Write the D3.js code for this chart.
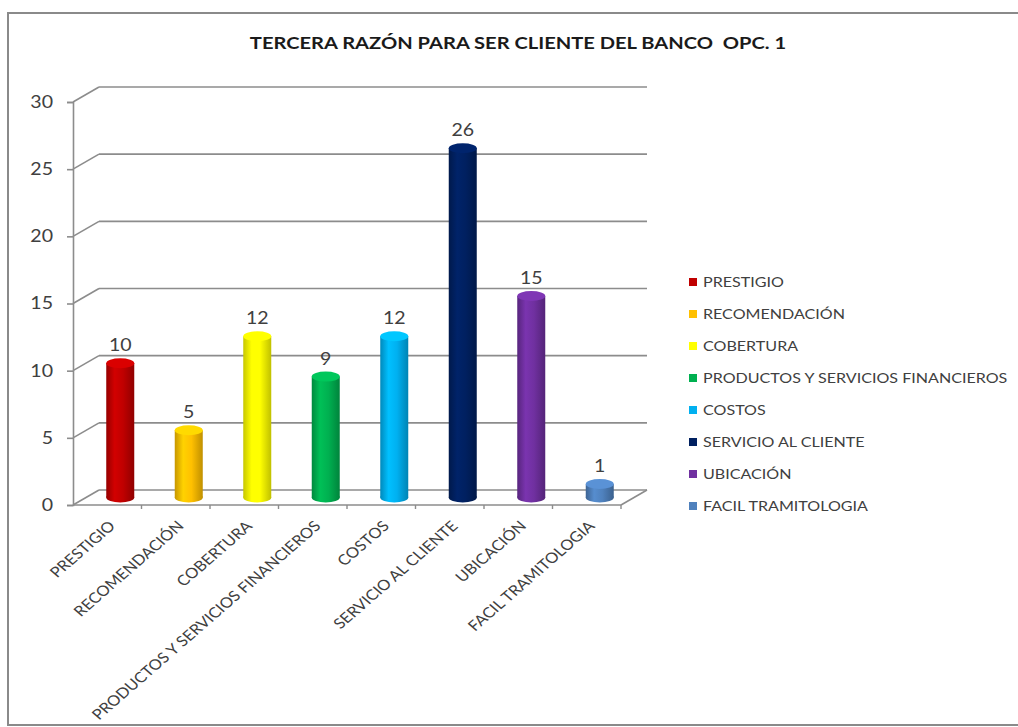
<!DOCTYPE html>
<html>
<head>
<meta charset="utf-8">
<script src="https://cdn.jsdelivr.net/npm/d3@7"></script>
<style>
  html, body { margin: 0; padding: 0; background: #fff; overflow: hidden; }
  svg { display: block; }
  text { font-family: Lato, "Open Sans", sans-serif; white-space: pre; }
</style>
</head>
<body>
<svg id="chart" width="1018" height="727"></svg>
<script>
// Tercera razón para ser cliente del banco (opción 1)
const categories = [
  "PRESTIGIO",
  "RECOMENDACIÓN",
  "COBERTURA",
  "PRODUCTOS Y SERVICIOS FINANCIEROS",
  "COSTOS",
  "SERVICIO AL CLIENTE",
  "UBICACIÓN",
  "FACIL TRAMITOLOGIA"
];
const values = [10, 5, 12, 9, 12, 26, 15, 1];
const colors = ["#C00000", "#FFC000", "#FFFF00", "#00B050", "#00B0F0", "#002060", "#7030A0", "#4F81BD"];
const yTicks = [0, 5, 10, 15, 20, 25, 30];
const title = "TERCERA RAZÓN PARA SER CLIENTE DEL BANCO  OPC. 1";

const svg = d3.select("#chart");
const stretch = 1.15;       // text is drawn a little wider than tall
const depth = { dx: 26, dy: -15 };   // offset of the back wall from the front plane

// chart frame (its right side runs past the page edge)
svg.append("path")
  .attr("d", "M1030,13 H8 V725 H1030")
  .attr("fill", "none").attr("stroke", "#8a8a8a").attr("stroke-width", 2);

// title
svg.append("text")
  .attr("transform", `translate(518,48.5) scale(${stretch},1)`)
  .attr("text-anchor", "middle")
  .attr("font-weight", "bold")
  .attr("font-size", 17.5)
  .attr("fill", "#1a1a1a")
  .attr("xml:space", "preserve")
  .text(title);

const x = d3.scaleBand().domain(categories).range([73, 621]);
const y = d3.scaleLinear().domain([0, 30]).range([505, 102]);

const gridColor = "#8c8c8c";
const grid = svg.append("g").attr("stroke", gridColor).attr("stroke-width", 1.6).attr("fill", "none");

// back wall gridlines and their links to the front axis
yTicks.forEach(t => {
  const yf = y(t);
  grid.append("line")
    .attr("x1", x.range()[0] + depth.dx).attr("y1", yf + depth.dy)
    .attr("x2", x.range()[1] + depth.dx).attr("y2", yf + depth.dy);
  grid.append("line")
    .attr("x1", x.range()[0]).attr("y1", yf)
    .attr("x2", x.range()[0] + depth.dx).attr("y2", yf + depth.dy);
});

// floor: front edge and right side
grid.append("line")
  .attr("x1", x.range()[0]).attr("y1", y(0))
  .attr("x2", x.range()[1]).attr("y2", y(0));
grid.append("line")
  .attr("x1", x.range()[1]).attr("y1", y(0))
  .attr("x2", x.range()[1] + depth.dx).attr("y2", y(0) + depth.dy);

// value axis
const yAxis = d3.axisLeft(y).tickValues(yTicks).tickSize(6).tickPadding(14);
const yg = svg.append("g").attr("transform", `translate(${x.range()[0]},0)`).call(yAxis);
yg.select(".domain").attr("stroke", gridColor).attr("stroke-width", 1.6);
yg.selectAll(".tick line").attr("stroke", gridColor).attr("stroke-width", 1.6);
yg.selectAll(".tick text")
  .attr("font-size", 17).attr("fill", "#404040")
  .attr("font-family", "Lato, sans-serif")
  .attr("transform", function () {
    const tx = +d3.select(this).attr("x");
    return `translate(${tx},0) scale(${stretch},1) translate(${-tx},0)`;
  });

// category ticks on the floor front edge
const tickG = svg.append("g").attr("stroke", gridColor).attr("stroke-width", 1.4);
categories.forEach((c, i) => {
  const xb = x(c) + x.bandwidth();
  tickG.append("line").attr("x1", xb).attr("x2", xb).attr("y1", y(0)).attr("y2", y(0) + 4);
});

// category labels
svg.append("g").selectAll("text").data(categories).join("text")
  .attr("transform", d => `translate(${x(d) + x.bandwidth() / 2 + 9},527) scale(${stretch},1) rotate(-45)`)
  .attr("text-anchor", "end")
  .attr("font-size", 14.5)
  .attr("fill", "#404040")
  .text(d => d);

// cylinders
const defs = svg.append("defs");
colors.forEach((col, i) => {
  const c = d3.color(col);
  const g = defs.append("linearGradient").attr("id", "cyl" + i)
    .attr("x1", "0%").attr("x2", "100%").attr("y1", "0%").attr("y2", "0%");
  g.append("stop").attr("offset", "0%").attr("stop-color", c.darker(0.7));
  g.append("stop").attr("offset", "30%").attr("stop-color", c.brighter(0.25));
  g.append("stop").attr("offset", "60%").attr("stop-color", c);
  g.append("stop").attr("offset", "100%").attr("stop-color", c.darker(0.8));
});

const rx = 14, ry = 5;
const barX = d => x(d) + x.bandwidth() / 2 + depth.dx / 2;
const barBaseY = v => y(v) + depth.dy / 2;

const bars = svg.append("g").selectAll("g").data(categories).join("g");
bars.append("ellipse")
  .attr("cx", barX).attr("cy", barBaseY(0))
  .attr("rx", rx).attr("ry", ry)
  .attr("fill", (d, i) => `url(#cyl${i})`);
bars.append("rect")
  .attr("x", d => barX(d) - rx)
  .attr("y", (d, i) => barBaseY(values[i]))
  .attr("width", rx * 2)
  .attr("height", (d, i) => barBaseY(0) - barBaseY(values[i]))
  .attr("fill", (d, i) => `url(#cyl${i})`);
bars.append("ellipse")
  .attr("cx", barX).attr("cy", (d, i) => barBaseY(values[i]))
  .attr("rx", rx).attr("ry", ry)
  .attr("fill", (d, i) => d3.color(colors[i]).brighter(0.35));

// value labels
svg.append("g").selectAll("text").data(categories).join("text")
  .attr("transform", (d, i) => `translate(${barX(d)},${barBaseY(values[i]) - 12}) scale(${stretch},1)`)
  .attr("text-anchor", "middle")
  .attr("font-size", 17)
  .attr("fill", "#404040")
  .text((d, i) => values[i]);

// legend
const legend = svg.append("g").selectAll("g").data(categories).join("g")
  .attr("transform", (d, i) => `translate(689,${282 + i * 32})`);
legend.append("rect")
  .attr("x", 0).attr("y", -4).attr("width", 8).attr("height", 8)
  .attr("fill", (d, i) => colors[i]);
legend.append("text")
  .attr("transform", `translate(14,0) scale(${stretch},1)`)
  .attr("dy", "0.36em")
  .attr("font-size", 14)
  .attr("fill", "#404040")
  .text(d => d);
</script>
</body>
</html>
